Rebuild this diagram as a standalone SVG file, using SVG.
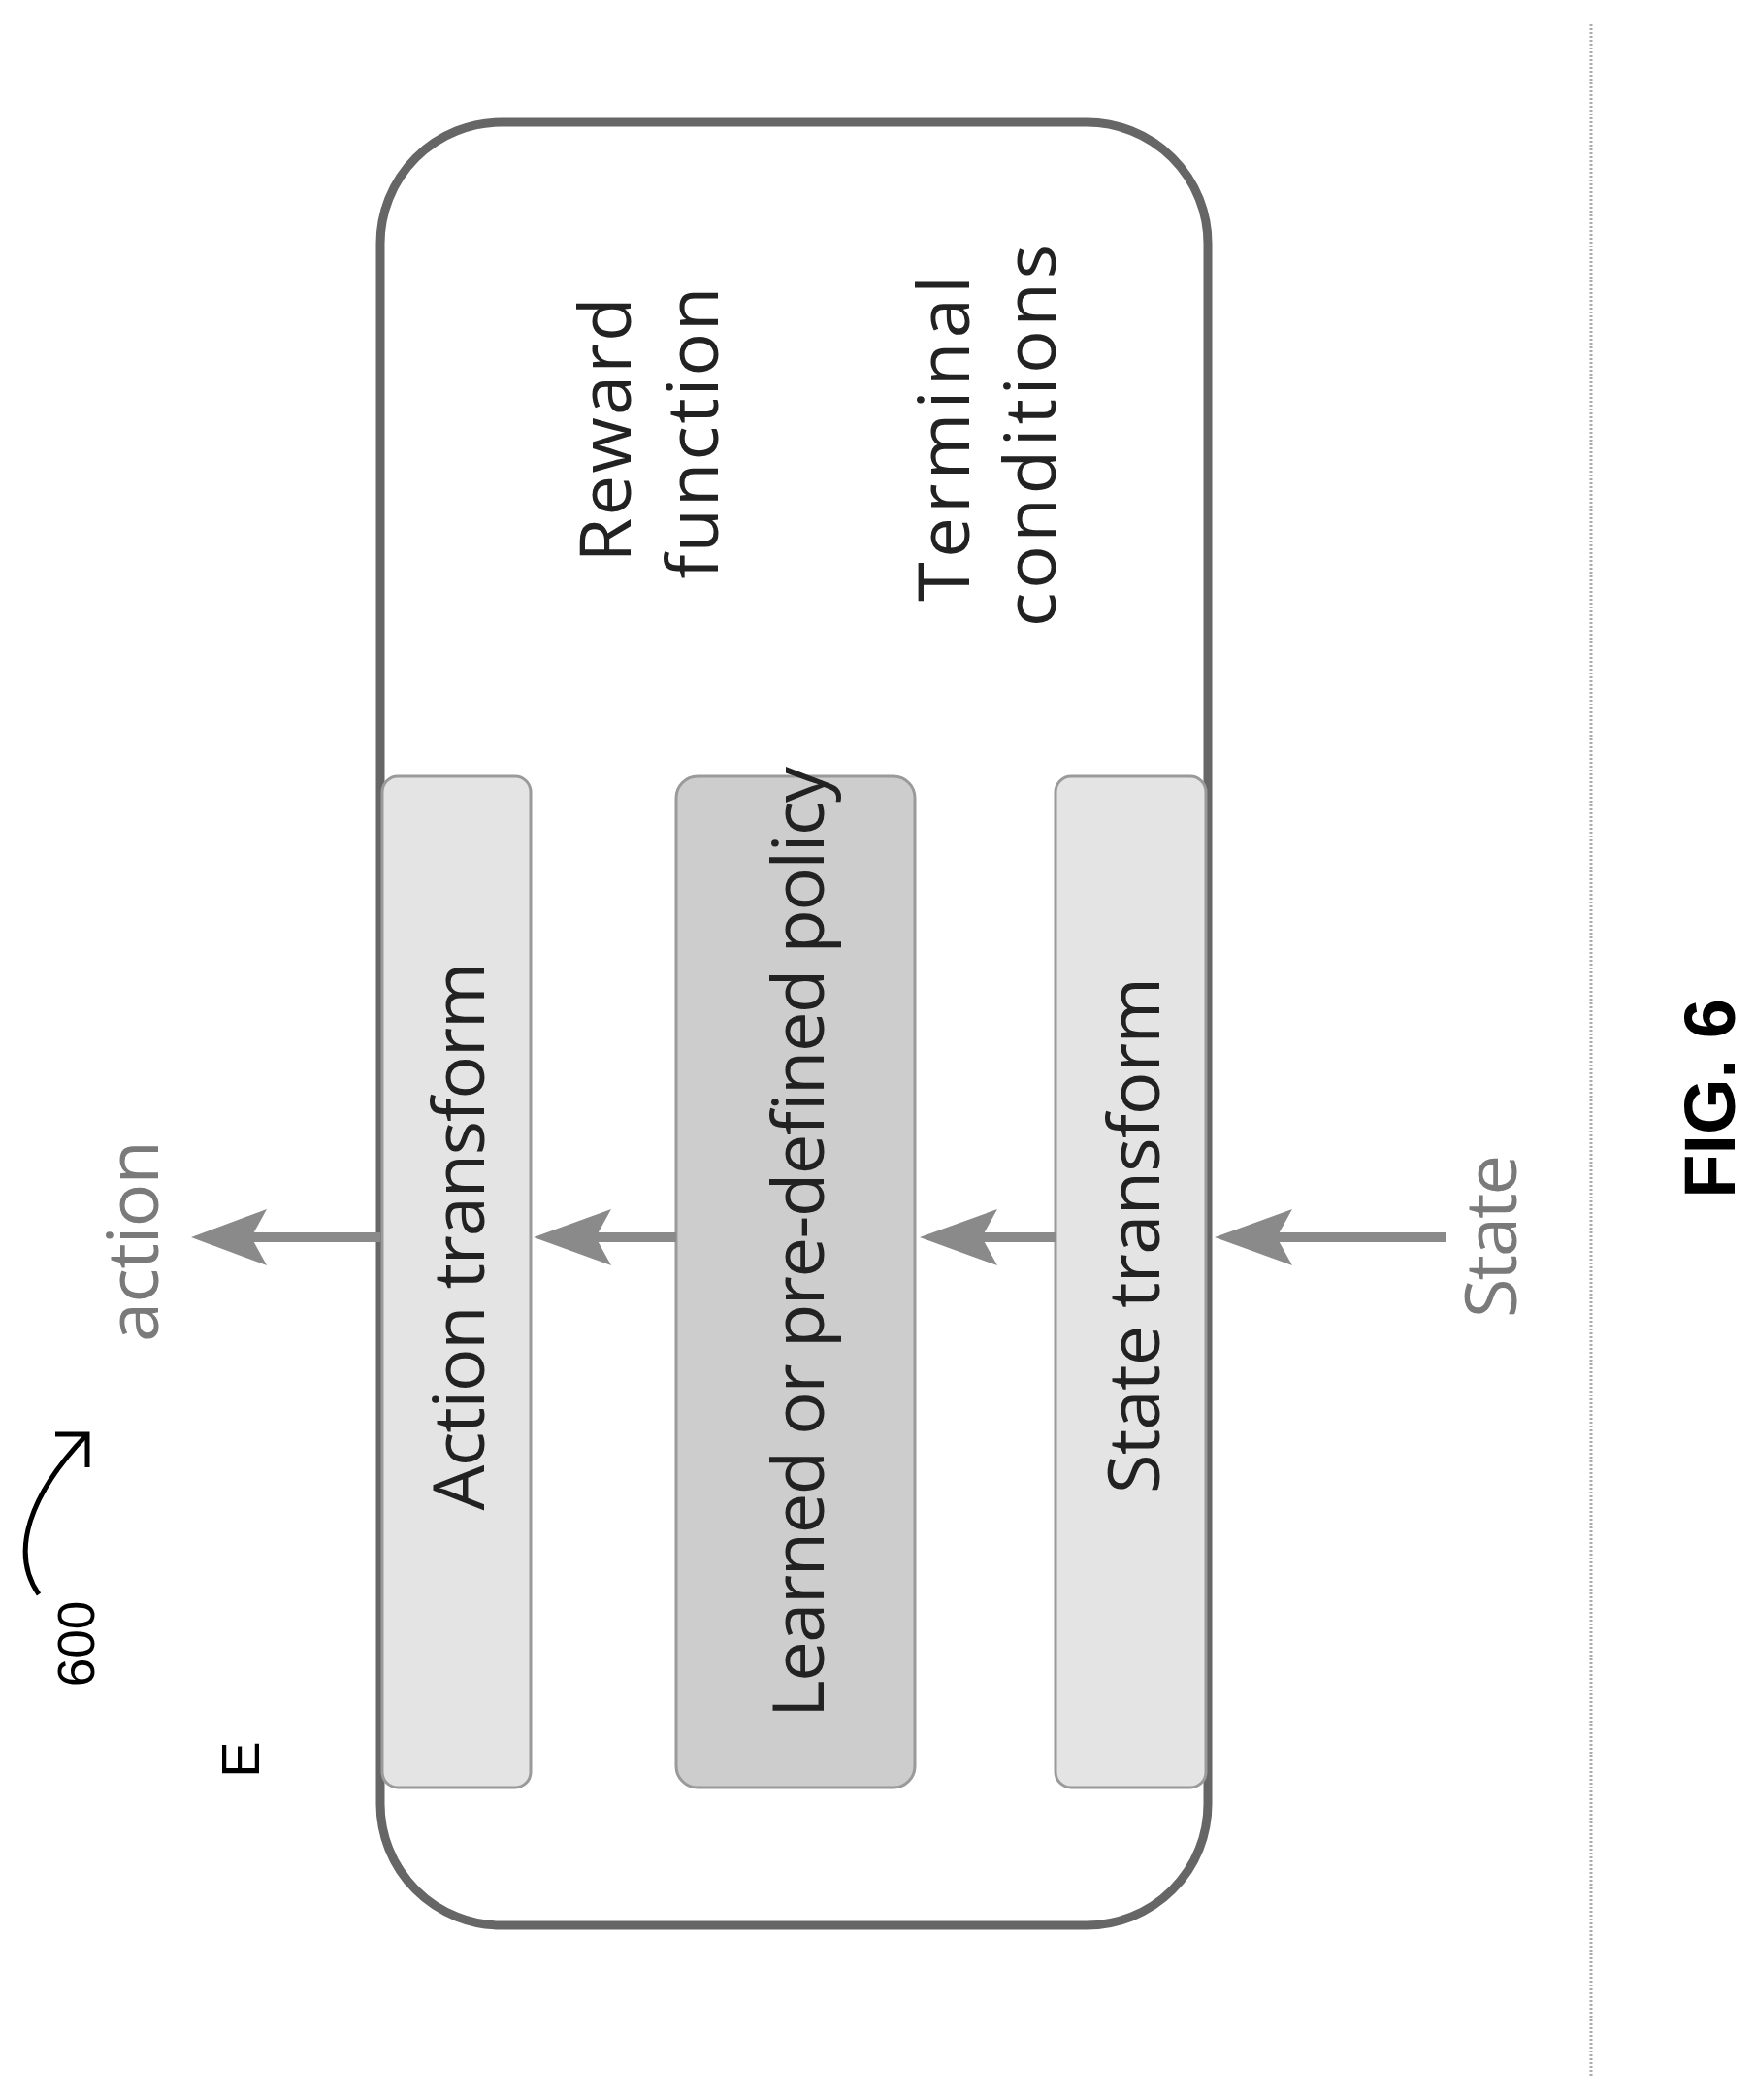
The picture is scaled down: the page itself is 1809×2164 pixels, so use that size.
<svg xmlns="http://www.w3.org/2000/svg" width="1809" height="2164" viewBox="0 0 1809 2164">
<defs>
<style>
.lbl{font-family:"Open Sans","DejaVu Sans",sans-serif;font-size:74px;fill:#222;text-anchor:middle}
.gray{fill:#7a7a7a}
.box{stroke:#9a9a9a;stroke-width:3}
.conn{stroke:#8a8a8a;stroke-width:10;fill:none}
.head{fill:#8a8a8a}
.ref{font-family:"Liberation Sans",Arial,sans-serif;fill:#000;text-anchor:middle}
</style>
</defs>
<rect width="1809" height="2164" fill="#fff"/>
<line x1="1640" y1="25" x2="1640" y2="2140" stroke="#aaa" stroke-width="3" stroke-dasharray="2 2"/>
<g id="environment">
<rect x="392" y="126" width="853" height="1858" rx="125" ry="125" fill="#fff" stroke="#666" stroke-width="9"/>
<text class="lbl" transform="translate(650,443) rotate(-90)" textLength="273">Reward</text>
<text class="lbl" transform="translate(740,446) rotate(-90)" textLength="301">function</text>
<text class="lbl" transform="translate(999,452) rotate(-90)" textLength="336">Terminal</text>
<text class="lbl" transform="translate(1088,449) rotate(-90)" textLength="394">conditions</text>
</g>
<g id="action-transform">
<rect class="box" x="394" y="800" width="153" height="1042" rx="16" fill="#e4e4e4"/>
<text class="lbl" dominant-baseline="central" transform="translate(470,1274) rotate(-90)" textLength="565">Action transform</text>
</g>
<g id="policy">
<rect class="box" x="697" y="800" width="246" height="1042" rx="22" fill="#cdcdcd"/>
<text class="lbl" dominant-baseline="central" transform="translate(820,1280) rotate(-90)" textLength="980">Learned or pre-defined policy</text>
</g>
<g id="state-transform">
<rect class="box" x="1088" y="800" width="155" height="1042" rx="16" fill="#e4e4e4"/>
<text class="lbl" dominant-baseline="central" transform="translate(1166,1273) rotate(-90)" textLength="532">State transform</text>
</g>
<g id="connectors">
<line class="conn" x1="1490" y1="1275" x2="1300" y2="1275"/>
<polygon class="head" points="1252,1275 1332,1246 1316,1275 1332,1304"/>
<line class="conn" x1="1088" y1="1275" x2="990" y2="1275"/>
<polygon class="head" points="948,1275 1028,1246 1012,1275 1028,1304"/>
<line class="conn" x1="697" y1="1275" x2="590" y2="1275"/>
<polygon class="head" points="550,1275 630,1246 614,1275 630,1304"/>
<line class="conn" x1="392" y1="1275" x2="240" y2="1275"/>
<polygon class="head" points="197,1275 275,1246 259,1275 275,1304"/>
<path d="M40,1643 C10,1600 30,1540 90,1478" fill="none" stroke="#000" stroke-width="5"/>
<path d="M57,1478 L90,1478 L90,1512" fill="none" stroke="#000" stroke-width="5"/>
</g>
<text class="lbl gray" transform="translate(163,1279) rotate(-90)" textLength="208">action</text>
<text class="lbl gray" transform="translate(1563,1274) rotate(-90)" textLength="168">State</text>
<text class="ref" font-size="53" transform="translate(97,1694) rotate(-90)">600</text>
<text class="ref" font-size="56" transform="translate(267,1813) rotate(-90)">E</text>
<text class="ref" font-size="74" font-weight="bold" transform="translate(1788,1132) rotate(-90)">FIG. 6</text>
</svg>
